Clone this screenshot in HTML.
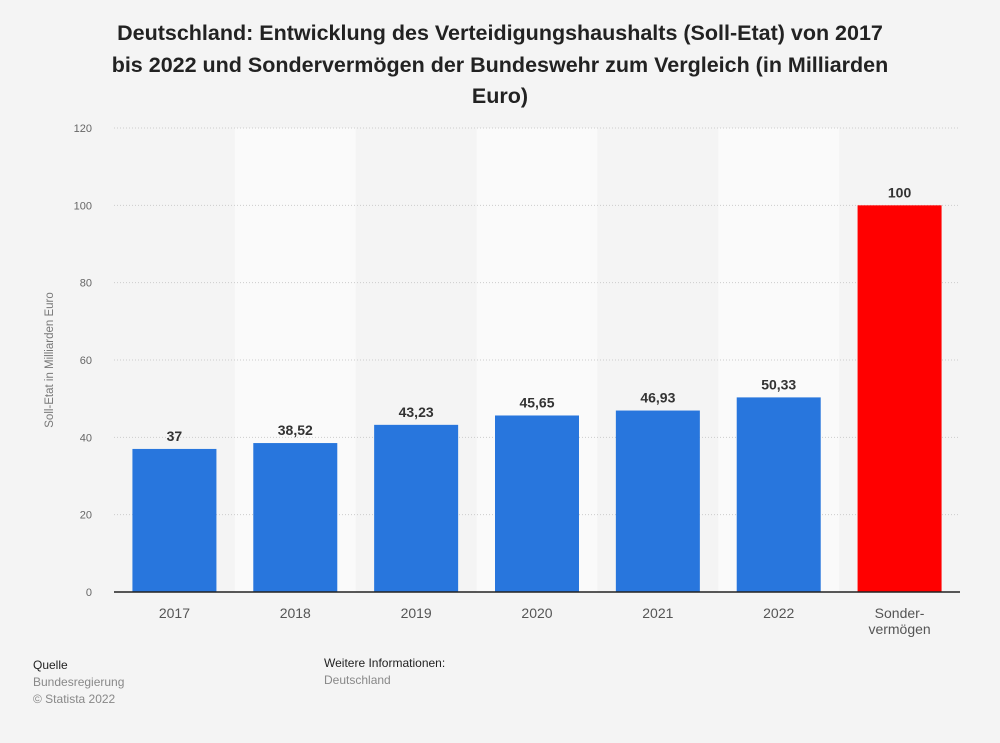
<!DOCTYPE html>
<html><head><meta charset="utf-8"><style>
body{margin:0;width:1000px;height:743px;background:#f4f4f4;font-family:"Liberation Sans",sans-serif;overflow:hidden;position:relative}
.t{position:absolute;left:0;width:1000px;top:18px;text-align:center;font-weight:bold;font-size:21.5px;line-height:31.5px;color:#222}
.f{position:absolute;font-size:12px;line-height:17px;color:#888}
</style></head><body>
<div class="t">Deutschland: Entwicklung des Verteidigungshaushalts (Soll-Etat) von 2017<br>bis 2022 und Sondervermögen der Bundeswehr zum Vergleich (in Milliarden<br>Euro)</div>
<svg id="c" width="1000" height="743" style="position:absolute;left:0;top:0"></svg>
<div class="f" style="left:33px;top:657px"><span style="color:#222">Quelle</span><br>Bundesregierung<br>© Statista 2022</div>
<div class="f" style="left:324px;top:655px"><span style="color:#222">Weitere Informationen:</span><br>Deutschland</div>
<script>
const categories=["2017","2018","2019","2020","2021","2022","Sonder-|vermögen"];
const values=[37,38.52,43.23,45.65,46.93,50.33,100];
const labels=["37","38,52","43,23","45,65","46,93","50,33","100"];
const ticks=[0,20,40,60,80,100,120];
const svg=document.getElementById('c');const NS='http://www.w3.org/2000/svg';
const x0=114,x1=960,y0=592,y1=128,ymax=120;
const bw=(x1-x0)/categories.length;
const y=v=>y0-(v/ymax)*(y0-y1);
function mk(t,a,p){const e=document.createElementNS(NS,t);for(const k in a)e.setAttribute(k,a[k]);(p||svg).appendChild(e);return e;}
categories.forEach((c,i)=>{if(i%2==1){const r=mk('rect',{x:x0+i*bw,y:y1,width:bw,height:y0-y1,fill:'#fafafa'});

}});
ticks.forEach(t=>{if(t>0){const l=mk('line',{x1:x0,x2:x1,y1:y(t),y2:y(t),stroke:'#ccc','stroke-dasharray':'1,2'});

}
const tx=mk('text',{x:92,y:y(t)+4,'text-anchor':'end','font-size':11,fill:'#666'});tx.textContent=t;

});
const yt=mk('text',{transform:'translate(53,360) rotate(-90)','text-anchor':'middle','font-size':11.5,fill:'#777'});yt.textContent='Soll-Etat in Milliarden Euro';


values.forEach((v,i)=>{const cx=x0+(i+0.5)*bw,w=84;
const r=mk('rect',{x:cx-w/2,y:y(v),width:w,height:y0-y(v),fill:i==6?'#ff0000':'#2876dd'});


const l=mk('text',{x:cx,y:y(v)-8,'text-anchor':'middle','font-size':14,'font-weight':'bold',fill:'#333'});l.textContent=labels[i];


categories[i].split('|').forEach((s,j)=>{const t=mk('text',{x:cx,y:618+j*16,'text-anchor':'middle','font-size':14,fill:'#555'});t.textContent=s;

});});
const ax=mk('line',{x1:x0,x2:x1,y1:y0,y2:y0,stroke:'#222','stroke-width':1.5});


</script>
</body></html>
